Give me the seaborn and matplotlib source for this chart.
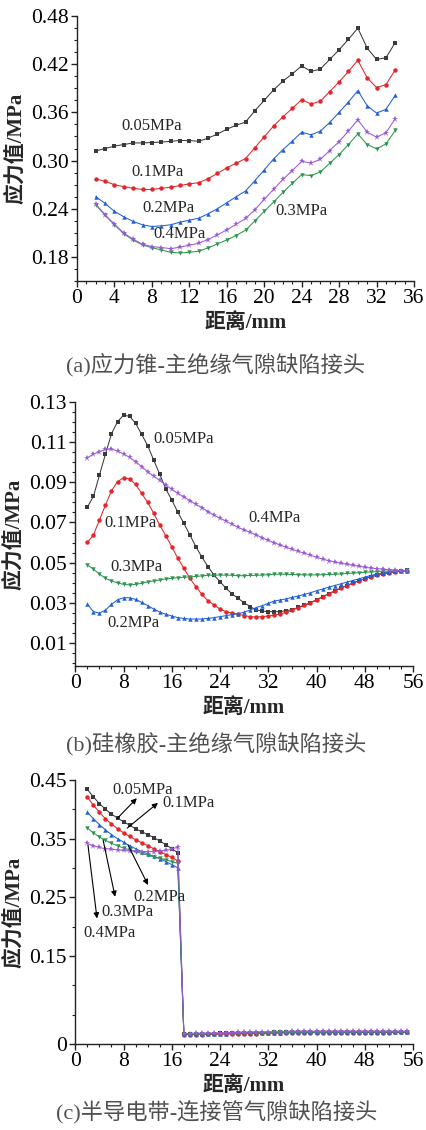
import numpy as np
import pandas as pd
import matplotlib
matplotlib.use("Agg")
import matplotlib.pyplot as plt
from matplotlib.ticker import MultipleLocator, FixedLocator, FuncFormatter
import seaborn as sns

# ---------------- data ----------------
pressures = ["0.05MPa", "0.1MPa", "0.2MPa", "0.3MPa", "0.4MPa"]

# (a) stress cone / main insulation
dist_a = np.arange(2, 35)
a_005 = [0.312, 0.315, 0.318, 0.320, 0.322, 0.322, 0.3225, 0.323, 0.324, 0.325, 0.325,
         0.324, 0.328, 0.333, 0.339, 0.344, 0.348, 0.362, 0.375, 0.388, 0.399, 0.408,
         0.418, 0.411, 0.414, 0.426, 0.438, 0.451, 0.465, 0.440, 0.426, 0.428, 0.447]
a_01 = [0.2775, 0.274, 0.270, 0.2675, 0.2655, 0.264, 0.264, 0.2655, 0.2667, 0.269, 0.271,
        0.2725, 0.2775, 0.284, 0.291, 0.2967, 0.3025, 0.316, 0.3296, 0.343, 0.3546, 0.365,
        0.376, 0.3704, 0.374, 0.386, 0.398, 0.411, 0.425, 0.403, 0.391, 0.3946, 0.413]
a_02 = [0.255, 0.2467, 0.2367, 0.230, 0.2242, 0.220, 0.2179, 0.2187, 0.220, 0.2233, 0.2258,
        0.2283, 0.2337, 0.240, 0.2475, 0.255, 0.2621, 0.275, 0.2883, 0.3021, 0.3137, 0.3242,
        0.3354, 0.3321, 0.3367, 0.3475, 0.360, 0.3729, 0.3871, 0.3683, 0.3592, 0.3638, 0.3813]
a_03 = [0.2450, 0.2318, 0.2200, 0.2088, 0.2010, 0.1950, 0.1915, 0.1888, 0.1858, 0.1850, 0.1858,
        0.1871, 0.1913, 0.1962, 0.2012, 0.2067, 0.2133, 0.2250, 0.2367, 0.2483, 0.2604, 0.2717,
        0.2825, 0.2813, 0.2858, 0.2967, 0.3075, 0.3200, 0.3333, 0.3200, 0.3146, 0.3208, 0.3375]
a_04 = [0.2459, 0.2325, 0.2208, 0.2096, 0.2021, 0.1958, 0.1929, 0.1917, 0.1904, 0.1921, 0.1946,
        0.1971, 0.2017, 0.2075, 0.2137, 0.2208, 0.2279, 0.2387, 0.2517, 0.2642, 0.2767, 0.2875,
        0.2992, 0.2967, 0.3017, 0.3125, 0.3237, 0.3367, 0.3508, 0.3354, 0.3292, 0.3346, 0.3521]

# (b) silicone rubber / main insulation
dist_b = np.arange(2, 56)
b_005 = [0.0776, 0.0830, 0.0936, 0.1041, 0.1142, 0.1202, 0.1235, 0.1229, 0.1194, 0.1139,
         0.1083, 0.1011, 0.0940, 0.0867, 0.0812, 0.0751, 0.0696, 0.0638, 0.0579, 0.0527,
         0.0480, 0.0438, 0.0405, 0.0372, 0.0344, 0.0322, 0.0300, 0.0281, 0.0264, 0.0259,
         0.0256, 0.0256, 0.0256, 0.0261, 0.0266, 0.0277, 0.0289, 0.0301, 0.0315, 0.0330,
         0.0345, 0.0359, 0.0373, 0.0386, 0.0398, 0.0410, 0.0420, 0.0430, 0.0438, 0.0445,
         0.0450, 0.0455, 0.0458, 0.0461]
b_01 = [0.0601, 0.0638, 0.0712, 0.0787, 0.0858, 0.0903, 0.0923, 0.0917, 0.0890, 0.0845,
        0.0800, 0.0746, 0.0687, 0.0634, 0.0579, 0.0522, 0.0472, 0.0422, 0.0380, 0.0342,
        0.0310, 0.0289, 0.0269, 0.0256, 0.0248, 0.0243, 0.0236, 0.0231, 0.0229, 0.0231,
        0.0234, 0.0239, 0.0244, 0.0253, 0.0264, 0.0276, 0.0287, 0.0300, 0.0314, 0.0330,
        0.0344, 0.0359, 0.0372, 0.0385, 0.0397, 0.0409, 0.0419, 0.0429, 0.0437, 0.0444,
        0.0449, 0.0454, 0.0457, 0.0460]
b_02 = [0.0294, 0.0256, 0.0248, 0.0264, 0.0292, 0.0315, 0.0325, 0.0325, 0.0317, 0.0302,
        0.0286, 0.0269, 0.0254, 0.0243, 0.0234, 0.0226, 0.0222, 0.0219, 0.0219, 0.0219,
        0.0222, 0.0226, 0.0231, 0.0236, 0.0241, 0.0246, 0.0253, 0.0264, 0.0276, 0.0286,
        0.0297, 0.0309, 0.0314, 0.0320, 0.0327, 0.0334, 0.0342, 0.0350, 0.0360, 0.0368,
        0.0378, 0.0386, 0.0394, 0.0403, 0.0411, 0.0419, 0.0428, 0.0436, 0.0443, 0.0448,
        0.0453, 0.0456, 0.0460, 0.0460]
b_03 = [0.0488, 0.0468, 0.0443, 0.0422, 0.0409, 0.0399, 0.0392, 0.0389, 0.0392, 0.0397,
        0.0404, 0.0409, 0.0414, 0.0419, 0.0422, 0.0425, 0.0427, 0.0429, 0.0431, 0.0434,
        0.0437, 0.0438, 0.0438, 0.0438, 0.0437, 0.0435, 0.0435, 0.0436, 0.0437, 0.0438,
        0.0440, 0.0442, 0.0443, 0.0442, 0.0441, 0.0440, 0.0439, 0.0439, 0.0439, 0.0440,
        0.0441, 0.0442, 0.0444, 0.0446, 0.0448, 0.0450, 0.0452, 0.0454, 0.0455, 0.0457,
        0.0458, 0.0459, 0.0460, 0.0461]
b_04 = [0.1023, 0.1040, 0.1053, 0.1064, 0.1066, 0.1056, 0.1041, 0.1025, 0.1003, 0.0978,
        0.0953, 0.0931, 0.0910, 0.0887, 0.0865, 0.0845, 0.0828, 0.0809, 0.0790, 0.0774,
        0.0754, 0.0737, 0.0721, 0.0707, 0.0691, 0.0676, 0.0663, 0.0651, 0.0638, 0.0624,
        0.0611, 0.0599, 0.0588, 0.0576, 0.0566, 0.0556, 0.0547, 0.0537, 0.0527, 0.0518,
        0.0510, 0.0503, 0.0497, 0.0492, 0.0487, 0.0482, 0.0477, 0.0473, 0.0470, 0.0467,
        0.0465, 0.0462, 0.0460, 0.0460]

# (c) semiconductive tape / connector tube
dist_c = np.arange(2, 56)
c_005 = [0.434, 0.421, 0.410, 0.400, 0.392, 0.385, 0.379, 0.373, 0.367, 0.362, 0.357, 0.352,
         0.346, 0.340, 0.333, 0.326,
         0.0172, 0.0172, 0.0173, 0.0174, 0.0176, 0.0178, 0.0180, 0.0182, 0.0184, 0.0186,
         0.0188, 0.0190, 0.0192, 0.0194, 0.0195, 0.0197, 0.0198, 0.0199, 0.0200, 0.0201,
         0.0202, 0.0203, 0.0203, 0.0204, 0.0204, 0.0205, 0.0205, 0.0205, 0.0206, 0.0206,
         0.0206, 0.0206, 0.0206, 0.0206, 0.0206, 0.0206, 0.0206, 0.0206]
c_01 = [0.421, 0.407, 0.395, 0.384, 0.375, 0.367, 0.360, 0.354, 0.348, 0.343, 0.338, 0.333,
        0.328, 0.323, 0.318, 0.312,
        0.0160, 0.0160, 0.0161, 0.0162, 0.0163, 0.0165, 0.0167, 0.0169, 0.0171, 0.0173,
        0.0175, 0.0177, 0.0179, 0.0181, 0.0183, 0.0184, 0.0186, 0.0187, 0.0188, 0.0189,
        0.0190, 0.0191, 0.0192, 0.0192, 0.0193, 0.0193, 0.0194, 0.0194, 0.0195, 0.0195,
        0.0195, 0.0196, 0.0196, 0.0196, 0.0196, 0.0197, 0.0197, 0.0197]
c_02 = [0.395, 0.384, 0.374, 0.365, 0.357, 0.350, 0.344, 0.338, 0.333, 0.328, 0.324, 0.320,
        0.316, 0.311, 0.306, 0.300,
        0.0168, 0.0169, 0.0170, 0.0171, 0.0173, 0.0175, 0.0177, 0.0179, 0.0181, 0.0183,
        0.0185, 0.0187, 0.0189, 0.0191, 0.0193, 0.0195, 0.0196, 0.0197, 0.0198, 0.0199,
        0.0200, 0.0201, 0.0202, 0.0202, 0.0203, 0.0203, 0.0204, 0.0204, 0.0204, 0.0205,
        0.0205, 0.0205, 0.0205, 0.0205, 0.0206, 0.0206, 0.0206, 0.0206]
c_03 = [0.368, 0.360, 0.353, 0.347, 0.342, 0.338, 0.334, 0.331, 0.328, 0.325, 0.322, 0.319,
        0.317, 0.314, 0.311, 0.308,
        0.0170, 0.0171, 0.0172, 0.0173, 0.0175, 0.0177, 0.0179, 0.0181, 0.0183, 0.0185,
        0.0187, 0.0189, 0.0191, 0.0193, 0.0195, 0.0197, 0.0198, 0.0199, 0.0200, 0.0201,
        0.0202, 0.0203, 0.0204, 0.0204, 0.0205, 0.0205, 0.0206, 0.0206, 0.0206, 0.0207,
        0.0207, 0.0207, 0.0207, 0.0207, 0.0207, 0.0207, 0.0207, 0.0207]
c_04 = [0.342, 0.338, 0.335, 0.333, 0.332, 0.331, 0.330, 0.329, 0.329, 0.328, 0.328, 0.328,
        0.329, 0.330, 0.332, 0.336,
        0.0178, 0.0179, 0.0180, 0.0182, 0.0184, 0.0186, 0.0189, 0.0192, 0.0195, 0.0198,
        0.0201, 0.0203, 0.0205, 0.0207, 0.0209, 0.0211, 0.0212, 0.0213, 0.0214, 0.0215,
        0.0216, 0.0216, 0.0217, 0.0217, 0.0217, 0.0217, 0.0217, 0.0217, 0.0217, 0.0216,
        0.0216, 0.0216, 0.0216, 0.0215, 0.0215, 0.0215, 0.0215, 0.0215]

captions = ["(a)应力锥-主绝缘气隙缺陷接头",
            "(b)硅橡胶-主绝缘气隙缺陷接头",
            "(c)半导电带-连接管气隙缺陷接头"]
x_label = "距离/mm"
y_label = "应力值/MPa"

# ---------------- style ----------------
sns.set_theme(style="ticks")
plt.rcParams["font.family"] = ["Liberation Serif", "Noto Sans CJK SC", "DejaVu Sans"]
plt.rcParams["axes.unicode_minus"] = False

colors = {"0.05MPa": "#3a3a3a", "0.1MPa": "#e3262b", "0.2MPa": "#2160d4",
          "0.3MPa": "#2e9650", "0.4MPa": "#9a5ad6"}
markers = {"0.05MPa": "s", "0.1MPa": "o", "0.2MPa": "^", "0.3MPa": "v", "0.4MPa": "*"}
msize = {"0.05MPa": 3.0, "0.1MPa": 3.2, "0.2MPa": 3.2, "0.3MPa": 3.2, "0.4MPa": 4.5}
draw_order = ["0.05MPa", "0.1MPa", "0.2MPa", "0.3MPa", "0.4MPa"]

fig = plt.figure(figsize=(4.26, 11.3), dpi=100)
ax_a = fig.add_axes([0.1808, 0.7513, 0.7910, 0.2345])
ax_b = fig.add_axes([0.1768, 0.4106, 0.7927, 0.2336])
ax_c = fig.add_axes([0.1768, 0.0761, 0.7927, 0.2336])


def draw_series(ax, x, table):
    df = pd.DataFrame({"x": np.repeat(x[None, :], len(table), axis=0).ravel(),
                       "y": np.concatenate([table[k] for k in table]),
                       "p": np.repeat(list(table.keys()), len(x))})
    for name in draw_order:
        sub = df[df["p"] == name]
        sns.lineplot(data=sub, x="x", y="y", ax=ax, color=colors[name],
                     marker=markers[name], markersize=msize[name],
                     markeredgewidth=0, linewidth=0.75, legend=False)


def style_axes(ax, xmax, xmajor, xminor):
    ax.set_xlim(0, xmax)
    ax.xaxis.set_major_locator(MultipleLocator(xmajor))
    ax.xaxis.set_minor_locator(MultipleLocator(xminor))
    ax.tick_params(which="major", direction="out", length=4.5, width=1.0,
                   labelsize=15.5, pad=1.5, colors="#222222", labelcolor="black")
    ax.tick_params(which="minor", direction="out", length=2.5, width=0.8, colors="#222222")
    for s in ("left", "bottom"):
        ax.spines[s].set_linewidth(1.0)
        ax.spines[s].set_color("#222222")
    sns.despine(ax=ax)
    ax.set_xlabel(x_label, fontsize=15, fontweight="bold", labelpad=3)
    ax.set_ylabel(y_label, fontsize=15, fontweight="bold", labelpad=3)


# ---- (a)
draw_series(ax_a, dist_a, dict(zip(pressures, [a_005, a_01, a_02, a_03, a_04])))
style_axes(ax_a, 36, 4, 1)
ax_a.set_ylim(0.15, 0.48)
ax_a.yaxis.set_major_locator(MultipleLocator(0.06))
ax_a.yaxis.set_minor_locator(MultipleLocator(0.015))
ax_a.yaxis.set_major_formatter(FuncFormatter(lambda v, p: f"{v:.2f}"))
for txt, (xx, yy) in zip(["0.05MPa", "0.1MPa", "0.2MPa", "0.4MPa", "0.3MPa"],
                         [(8.0, 0.3425), (8.55, 0.286), (9.8, 0.241), (10.9, 0.209), (24.0, 0.2375)]):
    ax_a.text(xx, yy, txt, ha="center", va="center", fontsize=12)

# ---- (b)
draw_series(ax_b, dist_b, dict(zip(pressures, [b_005, b_01, b_02, b_03, b_04])))
style_axes(ax_b, 56, 8, 2)
ax_b.set_ylim(-0.0015, 0.13)
ax_b.yaxis.set_major_locator(FixedLocator([0.01, 0.03, 0.05, 0.07, 0.09, 0.11, 0.13]))
ax_b.yaxis.set_minor_locator(MultipleLocator(0.005))
ax_b.yaxis.set_major_formatter(FuncFormatter(lambda v, p: f"{v:.2f}"))
for txt, (xx, yy) in zip(["0.05MPa", "0.4MPa", "0.1MPa", "0.3MPa", "0.2MPa"],
                         [(18.0, 0.1116), (33.1, 0.0722), (9.2, 0.0697), (10.1, 0.0478), (9.6, 0.0199)]):
    ax_b.text(xx, yy, txt, ha="center", va="center", fontsize=12)

# ---- (c)
draw_series(ax_c, dist_c, dict(zip(pressures, [c_005, c_01, c_02, c_03, c_04])))
style_axes(ax_c, 56, 8, 2)
ax_c.set_ylim(0, 0.45)
ax_c.yaxis.set_major_locator(FixedLocator([0, 0.15, 0.25, 0.35, 0.45]))
ax_c.yaxis.set_minor_locator(MultipleLocator(0.05))
ax_c.yaxis.set_major_formatter(FuncFormatter(lambda v, p: "0" if abs(v) < 1e-9 else f"{v:.2f}"))
arrow_notes = [
    ("0.05MPa", (6.9, 0.384), (10.2, 0.419), (11.2, 0.433)),
    ("0.1MPa", (8.6, 0.368), (13.7, 0.411), (18.7, 0.411)),
    ("0.2MPa", (8.75, 0.339), (12.06, 0.271), (13.9, 0.251)),
    ("0.3MPa", (4.6, 0.348), (6.6, 0.251), (8.6, 0.2255)),
    ("0.4MPa", (2.1, 0.339), (3.6, 0.214), (5.6, 0.190)),
]
for txt, tail, head, pos in arrow_notes:
    ax_c.annotate("", xy=head, xytext=tail,
                  arrowprops=dict(arrowstyle="-|>", color="black", lw=0.8,
                                  mutation_scale=8, shrinkA=0, shrinkB=0))
    ax_c.text(pos[0], pos[1], txt, ha="center", va="center", fontsize=12)

# ---- captions
for (cx, cy), cap in zip([(0.505, 0.677), (0.507, 0.3407), (0.509, 0.015)], captions):
    fig.text(cx, cy, cap, ha="center", va="center", fontsize=16, color="#505050")

fig.savefig("out.png", dpi=100)
